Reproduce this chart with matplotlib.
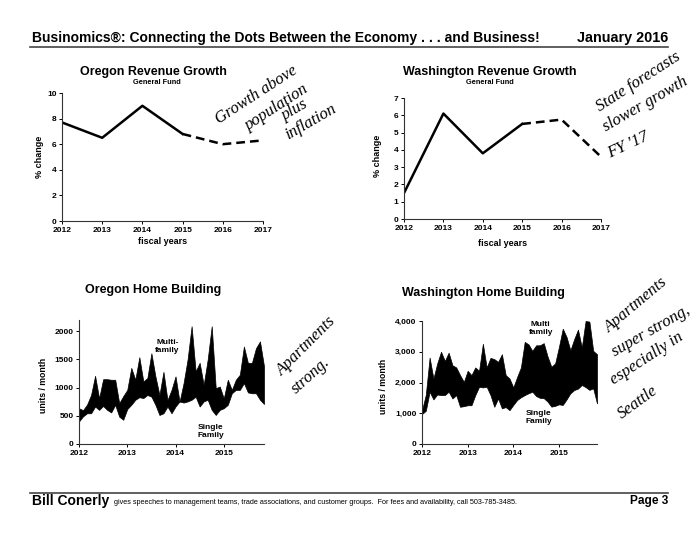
import matplotlib
matplotlib.use("Agg")
import matplotlib.pyplot as plt
import numpy as np

# revenue growth, % change by fiscal year
years = [2012, 2013, 2014, 2015, 2016, 2017]
or_actual = [7.7, 6.5, 9.0, 6.8]
or_forecast = [6.8, 6.0, 6.3]
wa_actual = [1.5, 6.1, 3.8, 5.5]
wa_forecast = [5.5, 5.75, 3.6]

# home building, units per month, Jan 2012 .. Nov 2015
or_single = [400, 490, 545, 545, 665, 605, 675, 605, 560, 695, 485, 430,
             620, 695, 785, 830, 815, 870, 840, 695, 515, 545, 665, 545,
             665, 755, 735, 755, 785, 840, 665, 755, 785, 605, 515, 605,
             635, 695, 900, 960, 960, 1080, 915, 900, 900, 785, 710]
or_total = [635, 600, 700, 870, 1210, 810, 1150, 1150, 1140, 1140, 725, 850,
            960, 1350, 1140, 1540, 1110, 1170, 1610, 1200, 870, 1280, 780, 960,
            1200, 750, 1080, 1500, 2090, 1290, 1440, 1050, 1500, 2090, 990, 1020,
            810, 1140, 960, 1140, 1230, 1730, 1440, 1440, 1700, 1820, 1380]
wa_single = [975, 1080, 1700, 1450, 1610, 1590, 1590, 1700, 1480, 1590, 1210, 1230,
             1260, 1260, 1590, 1860, 1840, 1860, 1590, 1210, 1480, 1160, 1200, 1100,
             1270, 1430, 1520, 1590, 1650, 1700, 1560, 1500, 1490, 1380, 1215, 1240,
             1290, 1270, 1450, 1650, 1755, 1800, 1920, 1850, 1760, 1810, 1320]
wa_total = [1100, 1600, 2810, 2130, 2620, 3000, 2700, 2970, 2560, 2490, 2240, 2020,
            2380, 2240, 2490, 2380, 3260, 2490, 2800, 2760, 2670, 2920, 2240, 2130,
            1840, 2180, 2490, 3320, 3240, 3030, 3210, 3210, 3280, 2850, 2510, 2620,
            3160, 3750, 3480, 3050, 3410, 3720, 3140, 4000, 3980, 3030, 2920]
months = 2012 + np.arange(len(or_single)) / 12.0

plt.rcParams['font.family'] = ['Liberation Sans', 'DejaVu Sans']
plt.rcParams['font.weight'] = 'bold'

W, H = 700, 541
fig = plt.figure(figsize=(7, 5.41), dpi=100)

def fx(x):
    return x / W

def fy(y):
    return 1 - y / H

def box(l, t, r, b):
    return [fx(l), fy(b), (r - l) / W, (b - t) / H]

def style(ax):
    for s in ['top', 'right']:
        ax.spines[s].set_visible(False)
    for s in ['left', 'bottom']:
        ax.spines[s].set_linewidth(0.8)
        ax.spines[s].set_color('#333333')
    ax.tick_params(labelsize=6, width=0.7, length=2.5, direction='out', pad=1.5)
    for lab in ax.get_xticklabels() + ax.get_yticklabels():
        lab.set_fontweight('bold')

hand = dict(family=['Liberation Serif', 'DejaVu Serif'], style='italic',
            weight='normal', fontsize=12, ha='center', va='center')

# header and footer
fig.text(fx(32), fy(38), "Businomics\u00ae: Connecting the Dots Between the Economy . . . and Business!",
         fontsize=10, weight='bold', va='center')
fig.text(fx(668), fy(38), "January 2016", fontsize=10.4, weight='bold',
         va='center', ha='right')
fig.add_artist(plt.Line2D([fx(30), fx(668)], [fy(47), fy(47)], color='#444444', lw=1.2))
fig.add_artist(plt.Line2D([fx(30), fx(668)], [fy(493), fy(493)], color='#444444', lw=1.2))
fig.text(fx(32), fy(501), "Bill Conerly", fontsize=10, weight='bold', va='center')
fig.text(fx(114), fy(502), "gives speeches to management teams, trade associations, and customer groups.  "
         "For fees and availability, call 503-785-3485.",
         fontsize=5.2, weight='normal', va='center')
fig.text(fx(668), fy(501), "Page 3", fontsize=8.6, weight='bold', va='center', ha='right')

# Oregon revenue
ax1 = fig.add_axes(box(62, 93, 263, 221))
ax1.plot(years[:4], or_actual, color='black', lw=1.8)
ax1.plot(years[3:], or_forecast, color='black', lw=1.8, linestyle=(0, (3.5, 2)))
ax1.set_xlim(2012, 2017)
ax1.set_ylim(0, 10)
ax1.set_xticks(years)
ax1.set_yticks([0, 2, 4, 6, 8, 10])
style(ax1)
fig.text(fx(153), fy(72), "Oregon Revenue Growth", fontsize=9, ha='center', va='center')
fig.text(fx(157), fy(83), "General Fund", fontsize=5.3, ha='center', va='center')
fig.text(fx(40), fy(157), "% change", fontsize=6.5, rotation=90, ha='center', va='center')
fig.text(fx(163), fy(242), "fiscal years", fontsize=6.5, ha='center', va='center')

# Washington revenue
ax2 = fig.add_axes(box(404, 98, 601, 219))
ax2.plot(years[:4], wa_actual, color='black', lw=1.8)
ax2.plot(years[3:], wa_forecast, color='black', lw=1.8, linestyle=(0, (3.5, 2)))
ax2.set_xlim(2012, 2017)
ax2.set_ylim(0, 7)
ax2.set_xticks(years)
ax2.set_yticks(range(8))
style(ax2)
fig.text(fx(490), fy(72), "Washington Revenue Growth", fontsize=9, ha='center', va='center')
fig.text(fx(490), fy(83), "General Fund", fontsize=5.3, ha='center', va='center')
fig.text(fx(378), fy(156), "% change", fontsize=6.5, rotation=90, ha='center', va='center')
fig.text(fx(503), fy(243), "fiscal years", fontsize=6.5, ha='center', va='center')

# Oregon home building
ax3 = fig.add_axes(box(79, 320, 264, 444))
ax3.fill_between(months, or_single, or_total, color='black', lw=0.5)
ax3.set_xlim(2012, months[-1])
ax3.set_ylim(0, 2200)
ax3.set_xticks([2012, 2013, 2014, 2015])
ax3.set_yticks([0, 500, 1000, 1500, 2000])
style(ax3)
ax3.text(2013.83, 1730, "Multi-\nfamily", fontsize=6, ha='center', va='center')
ax3.text(2014.73, 215, "Single\nFamily", fontsize=6, ha='center', va='center')
fig.text(fx(153), fy(290), "Oregon Home Building", fontsize=9, ha='center', va='center')
fig.text(fx(43), fy(385), "units / month", fontsize=6.3, rotation=90, ha='center', va='center')

# Washington home building
ax4 = fig.add_axes(box(422, 321, 597, 444))
ax4.fill_between(months, wa_single, wa_total, color='black', lw=0.5)
ax4.set_xlim(2012, months[-1])
ax4.set_ylim(0, 4000)
ax4.set_xticks([2012, 2013, 2014, 2015])
ax4.set_yticks([0, 1000, 2000, 3000, 4000])
ax4.set_yticklabels(['0', '1,000', '2,000', '3,000', '4,000'])
style(ax4)
ax4.text(2014.6, 3740, "Multi\nfamily", fontsize=6, ha='center', va='center')
ax4.text(2014.55, 850, "Single\nFamily", fontsize=6, ha='center', va='center')
fig.text(fx(483), fy(293), "Washington Home Building", fontsize=9, ha='center', va='center')
fig.text(fx(383), fy(386), "units / month", fontsize=6.3, rotation=90, ha='center', va='center')

# handwritten notes
fig.text(fx(256), fy(95), "Growth above", rotation=33, **hand)
fig.text(fx(277), fy(108), "population", rotation=33, **hand)
fig.text(fx(295), fy(110), "plus", rotation=30, **hand)
fig.text(fx(311), fy(122), "inflation", rotation=30, **hand)

fig.text(fx(638), fy(82), "State forecasts", rotation=33, **hand)
fig.text(fx(645), fy(104), "slower growth", rotation=30, **hand)
fig.text(fx(628), fy(145), "FY '17", rotation=25, **hand)

fig.text(fx(306), fy(346), "Apartments", rotation=45, **hand)
fig.text(fx(311), fy(376), "strong.", rotation=42, **hand)

fig.text(fx(636), fy(305), "Apartments", rotation=40, **hand)
fig.text(fx(651), fy(331), "super strong,", rotation=30, **hand)
fig.text(fx(647), fy(358), "especially in", rotation=33, **hand)
fig.text(fx(638), fy(402), "Seattle", rotation=36, **hand)

fig.savefig("out.png", dpi=100)
